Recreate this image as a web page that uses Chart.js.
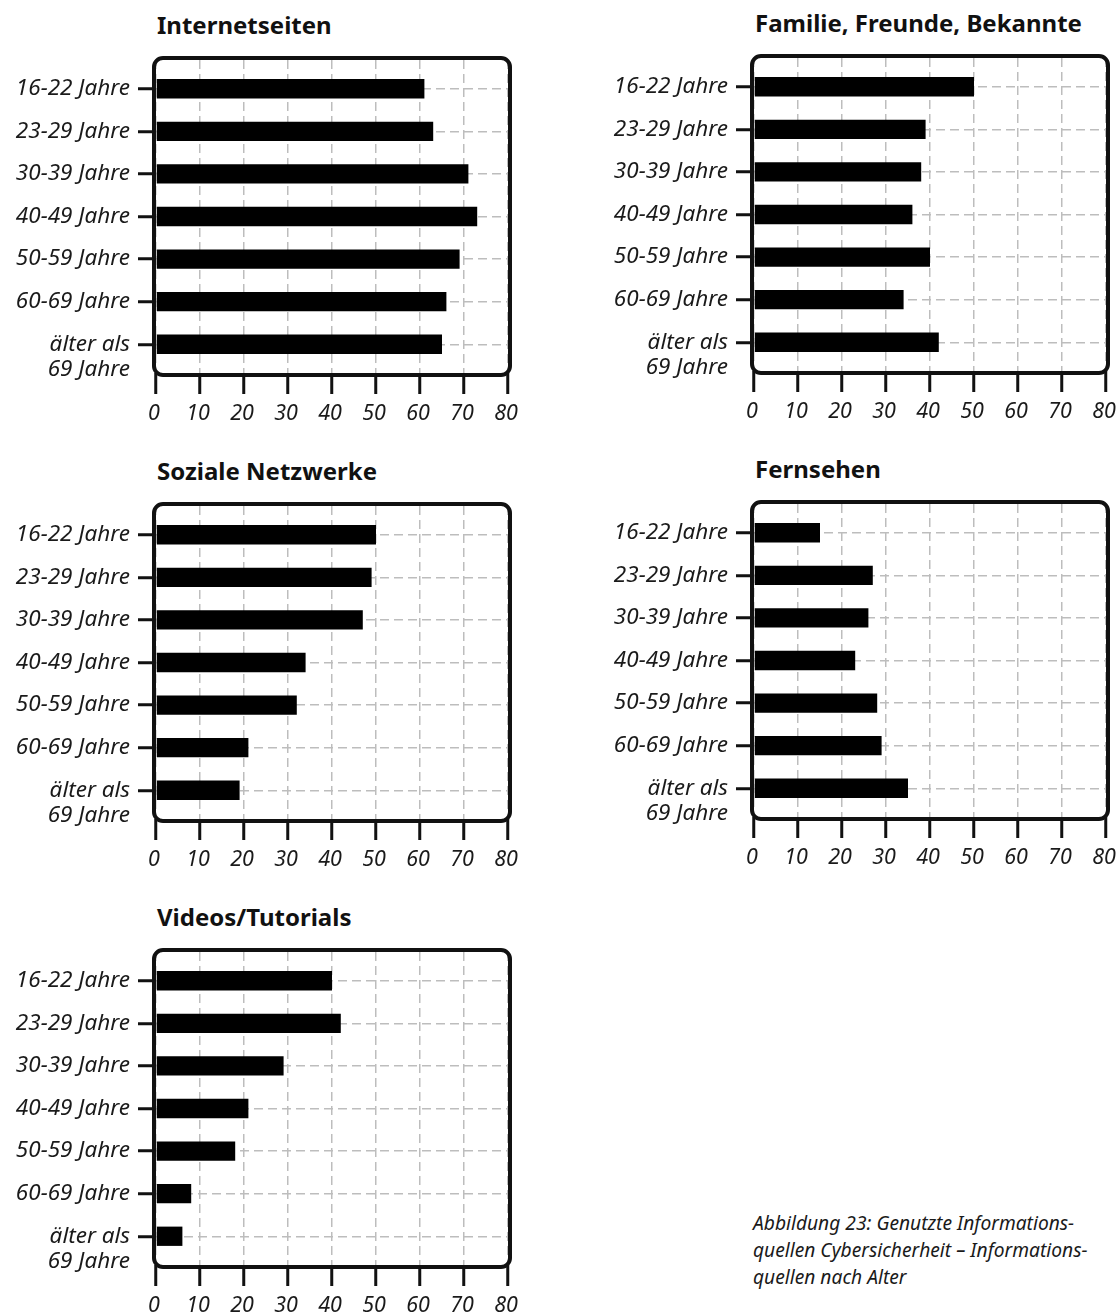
<!DOCTYPE html>
<html lang="de">
<head>
<meta charset="utf-8">
<title>Informationsquellen nach Alter</title>
<script src="https://cdn.jsdelivr.net/npm/chart.js@4.4.1/dist/chart.umd.min.js"></script>
<style>
  html, body { margin: 0; padding: 0; background: #fff; }
  body { width: 1117px; height: 1313px; position: relative; overflow: hidden; font-family: "Noto Sans", sans-serif; color: #111; }
  canvas { position: absolute; }
  .title { position: absolute; font-weight: 700; font-size: 24px; line-height: 24px; white-space: nowrap; color: #111; }
  .caption { position: absolute; left: 753px; top: 1209px; font-style: italic; font-size: 19.2px; line-height: 27px; color: #1a1a1a; white-space: nowrap; }
</style>
</head>
<body>
<div class="caption">Abbildung 23: Genutzte Informations-<br>quellen Cybersicherheit – Informations-<br>quellen nach Alter</div>
<script>
// Age groups (tick labels on the category axis) and value ticks
const ageLabels = ['16-22 Jahre', '23-29 Jahre', '30-39 Jahre', '40-49 Jahre', '50-59 Jahre', '60-69 Jahre', ['älter als', '69 Jahre']];
const xTicks = [0, 10, 20, 30, 40, 50, 60, 70, 80];

// Share of respondents per information source, in percent
const internetseiten   = [61, 63, 71, 73, 69, 66, 65];
const familie          = [50, 39, 38, 36, 40, 34, 42];
const sozialeNetzwerke = [50, 49, 47, 34, 32, 21, 19];
const fernsehen        = [15, 27, 26, 23, 28, 29, 35];
const videos           = [40, 42, 29, 21, 18, 8, 6];

const FONT = '"Noto Sans", sans-serif';
const INK = '#111';

// Rounded frame around the plot area
const framePlugin = {
  id: 'roundedFrame',
  afterDatasetsDraw(chart) {
    const { ctx, chartArea: a } = chart;
    ctx.save();
    ctx.lineWidth = 4;
    ctx.strokeStyle = INK;
    ctx.beginPath();
    ctx.roundRect(a.left - 2, a.top - 2, a.right - a.left + 4, a.bottom - a.top + 4, 9);
    ctx.stroke();
    ctx.restore();
  }
};

// panel layout: canvas left edge, plot top, canvas width
const panels = [
  { title: 'Internetseiten',             values: internetseiten,   left: 0,   top: 60,  width: 530 },
  { title: 'Familie, Freunde, Bekannte', values: familie,          left: 598, top: 58,  width: 519 },
  { title: 'Soziale Netzwerke',          values: sozialeNetzwerke, left: 0,   top: 506, width: 530 },
  { title: 'Fernsehen',                  values: fernsehen,        left: 598, top: 504, width: 519 },
  { title: 'Videos/Tutorials',           values: videos,           left: 0,   top: 952, width: 530 }
];

const PLOT_W = 352, PLOT_H = 313, PAD_TOP = 12, AXIS_X_H = 60, AXIS_Y_W = 156;
const Y_MIN = -0.675, Y_MAX = 6.675;

// keep the plot box fixed: no extra room for labels overhanging the ends
function noOverhang(s) {
  s.paddingLeft = 0; s.paddingRight = 0; s.paddingTop = 0; s.paddingBottom = 0;
}

panels.forEach(p => {
  const t = document.createElement('div');
  t.className = 'title';
  t.textContent = p.title;
  t.style.left = (p.left + 157) + 'px';
  t.style.top = (p.top - 47) + 'px';
  document.body.appendChild(t);

  const c = document.createElement('canvas');
  const h = PAD_TOP + PLOT_H + AXIS_X_H;
  c.width = p.width; c.height = h;
  c.style.left = p.left + 'px';
  c.style.top = (p.top - PAD_TOP) + 'px';
  c.style.width = p.width + 'px'; c.style.height = h + 'px';
  document.body.appendChild(c);

  const gridStyle = { color: '#bdbdbd', lineWidth: 1.5, borderDash: [9, 5], tickColor: INK, tickWidth: 3, tickBorderDash: [], offset: false };

  new Chart(c, {
    type: 'bar',
    data: {
      datasets: [{
        data: p.values.map((v, i) => ({ x: v, y: i })),
        backgroundColor: '#000',
        borderWidth: 0,
        barPercentage: 0.453,
        categoryPercentage: 1
      }]
    },
    options: {
      indexAxis: 'y',
      responsive: false,
      animation: false,
      devicePixelRatio: 1,
      layout: { padding: { top: PAD_TOP, right: p.width - AXIS_Y_W - PLOT_W, left: 0, bottom: 0 } },
      plugins: { legend: { display: false }, tooltip: { enabled: false } },
      scales: {
        x: {
          type: 'linear', position: 'bottom', min: 0, max: 80, bounds: 'data', offset: false,
          afterBuildTicks: s => { s.ticks = xTicks.map(v => ({ value: v })); s.min = 0; s.max = 80; },
          afterFit: s => { s.height = AXIS_X_H; noOverhang(s); },
          grid: Object.assign({ tickLength: 21 }, gridStyle),
          border: { display: false, dash: [9, 5] },
          ticks: { font: { family: FONT, size: 21.5, style: 'italic' }, color: '#1a1a1a', padding: 7, labelOffset: -2, maxRotation: 0, autoSkip: false }
        },
        y: {
          type: 'linear', position: 'left', min: Y_MIN, max: Y_MAX, reverse: true, bounds: 'data', offset: false,
          afterBuildTicks: s => { s.ticks = ageLabels.map((_, i) => ({ value: i })); s.min = Y_MIN; s.max = Y_MAX; },
          afterFit: s => { s.width = AXIS_Y_W; noOverhang(s); },
          grid: Object.assign({ tickLength: 18 }, gridStyle),
          border: { display: false, dash: [9, 5] },
          ticks: {
            font: { family: FONT, size: 22.5, style: 'italic', lineHeight: 1.12 }, color: '#1a1a1a', padding: 8, autoSkip: false,
            callback: v => {
              const l = ageLabels[v];
              // two-line label: first line sits on the tick
              return Array.isArray(l) ? [''].concat(l) : l;
            }
          }
        }
      }
    },
    plugins: [framePlugin]
  });
});
</script>
</body>
</html>
